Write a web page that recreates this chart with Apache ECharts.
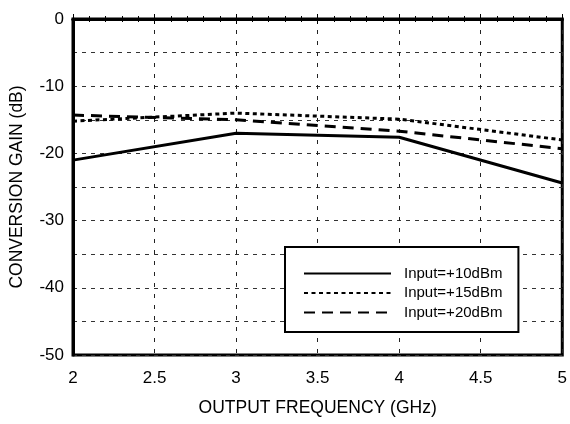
<!DOCTYPE html>
<html><head><meta charset="utf-8">
<script src="https://cdn.jsdelivr.net/npm/echarts@6/dist/echarts.min.js"></script>
<style>html,body{margin:0;padding:0;background:#fff}#c{width:570px;height:424px}</style>
</head><body><div id="c"></div>
<script>
const freqs = [2, 3, 4, 5];
const gain10 = [-21.0, -17.0, -17.6, -24.4];
const gain15 = [-15.2, -14.0, -14.9, -18.0];
const gain20 = [-14.3, -15.0, -16.7, -19.3];
const seriesNames = ['Input=+10dBm', 'Input=+15dBm', 'Input=+20dBm'];
const xTicks = [2, 2.5, 3, 3.5, 4, 4.5, 5];
const yTicks = [0, -10, -20, -30, -40, -50];

const font = 'Liberation Sans, Arial, sans-serif';
const pair = (xs, ys) => xs.map((x, i) => [x, ys[i]]);
const chart = echarts.init(document.getElementById('c'));
const lineStyles = [
  {color: '#000', width: 3, type: 'solid'},
  {color: '#000', width: 3, type: [4, 3.5]},
  {color: '#000', width: 3, type: [11, 7]}
];
chart.setOption({
  animation: false,
  backgroundColor: '#fff',
  grid: {left: 73, right: 5, top: 19, bottom: 69, show: true, borderColor: '#000', borderWidth: 3, backgroundColor: 'transparent'},
  legend: {
    orient: 'vertical', left: 285, top: 247,
    backgroundColor: '#fff', borderColor: '#000', borderWidth: 2,
    padding: [19, 16, 12, 18], itemGap: 4.5, itemWidth: 87, itemHeight: 15,
    itemStyle: {opacity: 0},
    lineStyle: {opacity: 1},
    textStyle: {fontFamily: font, fontSize: 15, color: '#000', padding: [0, 0, 0, 8]},
    data: seriesNames
  },
  xAxis: [{
    type: 'value', min: 2, max: 5, interval: 0.5,
    name: 'OUTPUT FREQUENCY (GHz)', nameLocation: 'middle', nameGap: 44,
    nameTextStyle: {fontFamily: font, fontSize: 17.5, color: '#000'},
    axisLine: {show: true, lineStyle: {color: '#000', width: 3}},
    axisTick: {show: true, inside: true, length: 5, lineStyle: {color: '#000'}},
    minorTick: {show: true, splitNumber: 5, length: 3, lineStyle: {color: '#000'}},
    axisLabel: {margin: 15, fontFamily: font, fontSize: 17, color: '#000', formatter: v => xTicks.includes(v) ? String(v) : ''},
    splitLine: {show: true, lineStyle: {color: '#222', width: 1, type: [4, 7]}}
  }, {
    type: 'value', min: 2, max: 5, interval: 0.5, position: 'top',
    axisLine: {show: true, lineStyle: {color: '#000', width: 3}},
    axisTick: {show: true, inside: true, length: 5, lineStyle: {color: '#000'}},
    minorTick: {show: true, splitNumber: 5, length: 3, lineStyle: {color: '#000'}},
    axisLabel: {show: false}, splitLine: {show: false}
  }],
  yAxis: {
    type: 'value', min: -50, max: 0, interval: 5,
    name: 'CONVERSION GAIN (dB)', nameLocation: 'middle', nameGap: 47,
    nameTextStyle: {fontFamily: font, fontSize: 17.5, color: '#000'},
    axisLine: {show: true, lineStyle: {color: '#000', width: 3}},
    axisTick: {show: false},
    axisLabel: {margin: 9, fontFamily: font, fontSize: 17, color: '#000', formatter: v => yTicks.includes(v) ? String(v) : ''},
    splitLine: {show: true, lineStyle: {color: '#333', width: 1, type: [4, 5]}}
  },
  series: [gain10, gain15, gain20].map((g, i) => ({
    name: seriesNames[i], type: 'line', data: pair(freqs, g),
    symbol: 'none', lineStyle: lineStyles[i], itemStyle: {color: '#000'}, z: 3
  }))
});
</script></body></html>
